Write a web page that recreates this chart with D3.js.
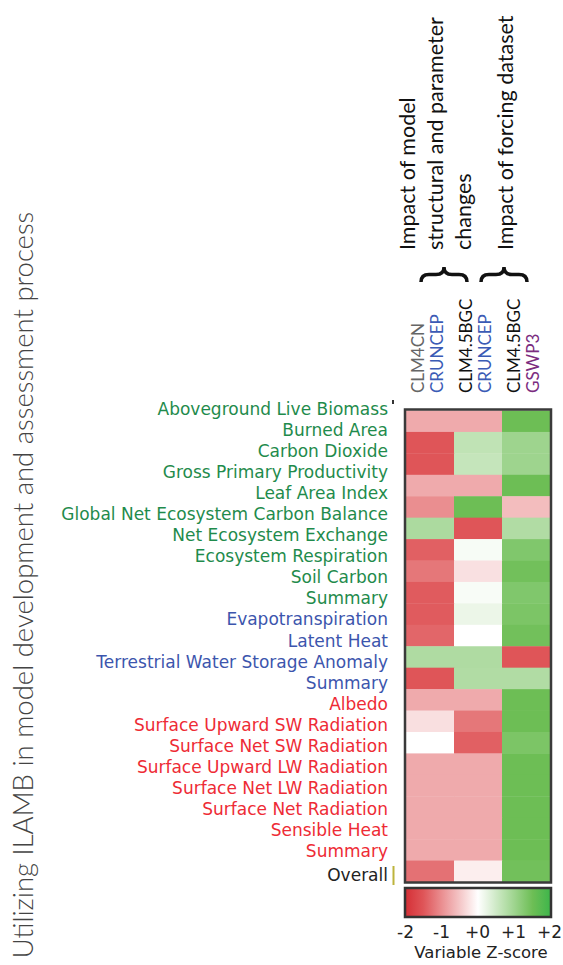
<!DOCTYPE html>
<html>
<head>
<meta charset="utf-8">
<script src="https://cdn.jsdelivr.net/npm/d3@7"></script>
<style>
body { margin: 0; background: #fff; }
svg { display: block; }
</style>
</head>
<body>
<script>
// row labels, top to bottom (first one has no cells in the picture)
var rowLabels = ["Aboveground Live Biomass", "Burned Area", "Carbon Dioxide", "Gross Primary Productivity",
    "Leaf Area Index", "Global Net Ecosystem Carbon Balance", "Net Ecosystem Exchange", "Ecosystem Respiration",
    "Soil Carbon", "Summary", "Evapotranspiration", "Latent Heat", "Terrestrial Water Storage Anomaly", "Summary",
    "Albedo", "Surface Upward SW Radiation", "Surface Net SW Radiation", "Surface Upward LW Radiation",
    "Surface Net LW Radiation", "Surface Net Radiation", "Sensible Heat", "Summary", "Overall"];
var rowGroups = ["eco", "eco", "eco", "eco", "eco", "eco", "eco", "eco", "eco", "eco",
    "hydro", "hydro", "hydro", "hydro",
    "rad", "rad", "rad", "rad", "rad", "rad", "rad", "rad", "all"];

var models = ["CLM4CN", "CLM4.5BGC", "CLM4.5BGC"];
var forcings = ["CRUNCEP", "CRUNCEP", "GSWP3"];

// variable z-scores, one array per column
var clm4cnCruncep = [null, -0.75, -1.5, -1.5, -0.75, -1.0, 0.85, -1.4, -1.2, -1.45, -1.45, -1.35, 0.82, -1.5,
    -0.75, -0.28, 0, -0.75, -0.75, -0.75, -0.75, -0.75, -1.25];
var clm45Cruncep = [null, -0.75, 0.65, 0.6, -0.75, 1.5, -1.5, 0.08, -0.27, 0.07, 0.2, 0, 0.82, 0.8,
    -0.75, -1.2, -1.4, -0.75, -0.75, -0.75, -0.75, -0.75, -0.15];
var clm45Gswp3 = [null, 1.5, 1.0, 1.0, 1.5, -0.58, 0.8, 1.3, 1.45, 1.3, 1.35, 1.45, -1.5, 0.8,
    1.5, 1.5, 1.35, 1.5, 1.5, 1.5, 1.5, 1.5, 1.45];
var series = [clm4cnCruncep, clm45Cruncep, clm45Gswp3];

var tickValues = [-2, -1, 0, 1, 2];
var tickLabels = ["-2", "-1", "+0", "+1", "+2"];

var groupColor = {eco: "#1f8b4c", hydro: "#3c55ad", rad: "#ee2b35", all: "#222"};
var modelColor = ["#666", "#111", "#111"];
var forcingColor = ["#3b5bb5", "#3b5bb5", "#7b2c80"];

var color = d3.scaleLinear()
    .domain([-2, -1.5, 0, 1.5, 2])
    .range(["#d42f35", "#df5558", "#ffffff", "#6dbe55", "#3db54a"])
    .clamp(true);

var svg = d3.select('body').append('svg')
    .attr('width', 563)
    .attr('height', 965);

var cellRows = d3.range(1, rowLabels.length); // rows that have cells
var x = d3.scaleBand().domain([0, 1, 2]).range([406, 550]);
var y = d3.scaleBand().domain(cellRows).range([410.5, 882]);
var labelY = d3.scaleLinear().domain([0, 21]).range([415.3, 856.7]);

// cells
var cells = [];
cellRows.forEach(function (r) {
    series.forEach(function (s, c) {
        cells.push({row: r, col: c, value: s[r]});
    });
});

svg.append('g').selectAll('rect')
    .data(cells)
    .enter()
    .append('rect')
    .attr('x', function (d) { return x(d.col); })
    .attr('y', function (d) { return y(d.row); })
    .attr('width', x.bandwidth() + 0.4)
    .attr('height', y.bandwidth() + 0.4)
    .style('fill', function (d) { return color(d.value); });

svg.append('rect')
    .attr('x', 405).attr('y', 409.5)
    .attr('width', 146).attr('height', 473)
    .attr('fill', 'none')
    .attr('stroke', '#3a3a3a')
    .attr('stroke-width', 2.5);

// row labels
svg.append('g').selectAll('text')
    .data(rowLabels)
    .enter()
    .append('text')
    .attr('x', 388)
    .attr('y', function (d, i) { return i < 22 ? labelY(i) : labelY(i) + 3; })
    .attr('text-anchor', 'end')
    .style('font-family', 'DejaVu Sans')
    .style('font-size', '17px')
    .style('fill', function (d, i) { return groupColor[rowGroups[i]]; })
    .text(function (d) { return d; });

// little marks next to the first and last labels
svg.append('rect').attr('x', 392).attr('y', 400).attr('width', 2).attr('height', 4).attr('fill', '#333');
svg.append('rect').attr('x', 392.5).attr('y', 866).attr('width', 2).attr('height', 19).attr('fill', '#bdb43c');

// column headers (rotated)
var colHead = svg.append('g');
models.forEach(function (m, c) {
    var cx = x(c) + x.bandwidth() / 2;
    colHead.append('text')
        .attr('transform', 'translate(' + (cx - 6) + ',393) rotate(-90)')
        .style('font-family', 'Lato').style('font-size', '17px')
        .style('fill', modelColor[c])
        .text(m);
    colHead.append('text')
        .attr('transform', 'translate(' + (cx + 13) + ',393) rotate(-90)')
        .style('font-family', 'Lato').style('font-size', '17px')
        .style('fill', forcingColor[c])
        .text(forcings[c]);
});

// braces
function brace(x1, x2, yb, yt) {
    var ym = (yb + yt) / 2, xm = (x1 + x2) / 2, r = 8;
    return 'M' + x1 + ',' + yb + 'Q' + x1 + ',' + ym + ' ' + (x1 + r) + ',' + ym +
        'L' + (xm - r) + ',' + ym + 'Q' + xm + ',' + ym + ' ' + xm + ',' + yt +
        'Q' + xm + ',' + ym + ' ' + (xm + r) + ',' + ym +
        'L' + (x2 - r) + ',' + ym + 'Q' + x2 + ',' + ym + ' ' + x2 + ',' + yb;
}
svg.append('path').attr('d', brace(421, 467, 282, 267))
    .attr('fill', 'none').attr('stroke', '#111').attr('stroke-width', 3.5);
svg.append('path').attr('d', brace(481, 527, 282, 267))
    .attr('fill', 'none').attr('stroke', '#111').attr('stroke-width', 3.5);

// header texts
var headLines = [
    {text: "Impact of model", x: 415},
    {text: "structural and parameter", x: 443},
    {text: "changes", x: 471},
    {text: "Impact of forcing dataset", x: 513}
];
svg.append('g').selectAll('text')
    .data(headLines)
    .enter()
    .append('text')
    .attr('transform', function (d) { return 'translate(' + d.x + ',250) rotate(-90)'; })
    .style('font-family', 'Lato')
    .style('font-size', '21.5px')
    .style('fill', '#111')
    .text(function (d) { return d.text; });

// y title
svg.append('text')
    .attr('transform', 'translate(33,585) rotate(-90)')
    .attr('text-anchor', 'middle')
    .style('font-family', 'Lato')
    .style('font-weight', 300)
    .style('font-size', '27.5px')
    .style('fill', '#444')
    .text("Utilizing ILAMB in model development and assessment process");

// colour bar
var grad = svg.append('defs').append('linearGradient').attr('id', 'zgrad');
grad.selectAll('stop')
    .data(d3.range(-2, 2.001, 0.25))
    .enter()
    .append('stop')
    .attr('offset', function (d) { return (d + 2) / 4; })
    .attr('stop-color', function (d) { return color(d); });

svg.append('rect')
    .attr('x', 405).attr('y', 888)
    .attr('width', 146).attr('height', 29)
    .attr('fill', 'url(#zgrad)')
    .attr('stroke', '#333')
    .attr('stroke-width', 2.5);

var zx = d3.scaleLinear().domain([-2, 2]).range([405, 549]);
var zAxis = svg.append('g')
    .attr('transform', 'translate(0,923)')
    .call(d3.axisBottom(zx)
        .tickValues(tickValues)
        .tickFormat(function (d, i) { return tickLabels[i]; })
        .tickSize(0)
        .tickPadding(3));
zAxis.select('.domain').remove();
zAxis.selectAll('text')
    .style('font-family', 'DejaVu Sans')
    .style('font-size', '17px')
    .style('fill', '#222');

svg.append('text')
    .attr('x', 481).attr('y', 958)
    .attr('text-anchor', 'middle')
    .style('font-family', 'DejaVu Sans')
    .style('font-size', '16.5px')
    .style('fill', '#222')
    .text("Variable Z-score");
</script>
</body>
</html>
